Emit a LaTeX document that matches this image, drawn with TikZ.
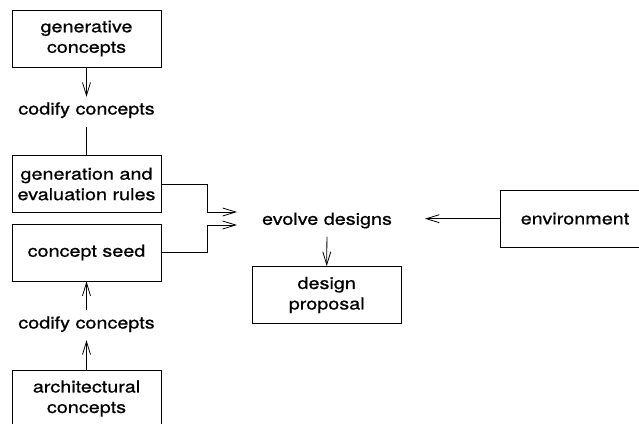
\documentclass[tikz,border=0pt]{standalone}
\usepackage{fontspec}
\setmainfont{TeX Gyre Heros}[FakeStretch=1.2, FakeBold=0.8]
\usetikzlibrary{arrows.meta}
\begin{document}
\begin{tikzpicture}[x=1pt,y=-1pt,
  every node/.style={font=\fontsize{16.5}{20.5}\selectfont, align=center},
  box/.style={draw, line width=0.8pt, minimum width=149pt, minimum height=57pt, inner sep=0pt},
  lbl/.style={inner sep=0pt, text height=12pt, text depth=3.5pt, anchor=base},
  arr/.style={line width=0.8pt, -{Straight Barb[length=13pt,width=8pt,line width=0.8pt]}},
  ln/.style={line width=0.8pt}]
\useasboundingbox (0,0) rectangle (639,423);

% left column
\node[box] (gc)   at (86.5,38.5)  {generative\\concepts};
\node[lbl] (cod1) at (86.5,114.5) {codify concepts};
\node[box] (rules) at (86.5,184)  {generation and\\evaluation rules};
\node[box] (seed) at (86.5,252.5) {concept seed};
\node[lbl] (cod2) at (86.5,328.5) {codify concepts};
\node[box] (arch) at (86.5,398.5) {architectural\\concepts};

% middle and right
\node[lbl] (evo)  at (327,224.8)  {evolve designs};
\node[box] (prop) at (326.7,295)  {design\\proposal};
\node[box] (env)  at (575,218.7)  {environment};

\coordinate (t1) at (237,212);
\coordinate (t2) at (237,225);
\coordinate (tE) at (425,218.7);

% connectors
\draw[arr, shorten >=5.5pt] (gc.south) -- (cod1.north);
\draw[ln, shorten <=9pt] (cod1.south) -- (rules.north);
\draw[arr, shorten <=6.5pt] (cod2.north) -- (seed.south);
\draw[arr, shorten >=8pt] (arch.north) -- (cod2.south);
\draw[arr] (rules.east) -| ([xshift=-30pt]t1) -- (t1);
\draw[arr] (seed.east) -| ([xshift=-30pt]t2) -- (t2);
\draw[arr] (env.west) -- (tE);
\draw[arr, shorten <=8.4pt] (evo.south) -- (prop.north);
\end{tikzpicture}
\end{document}
